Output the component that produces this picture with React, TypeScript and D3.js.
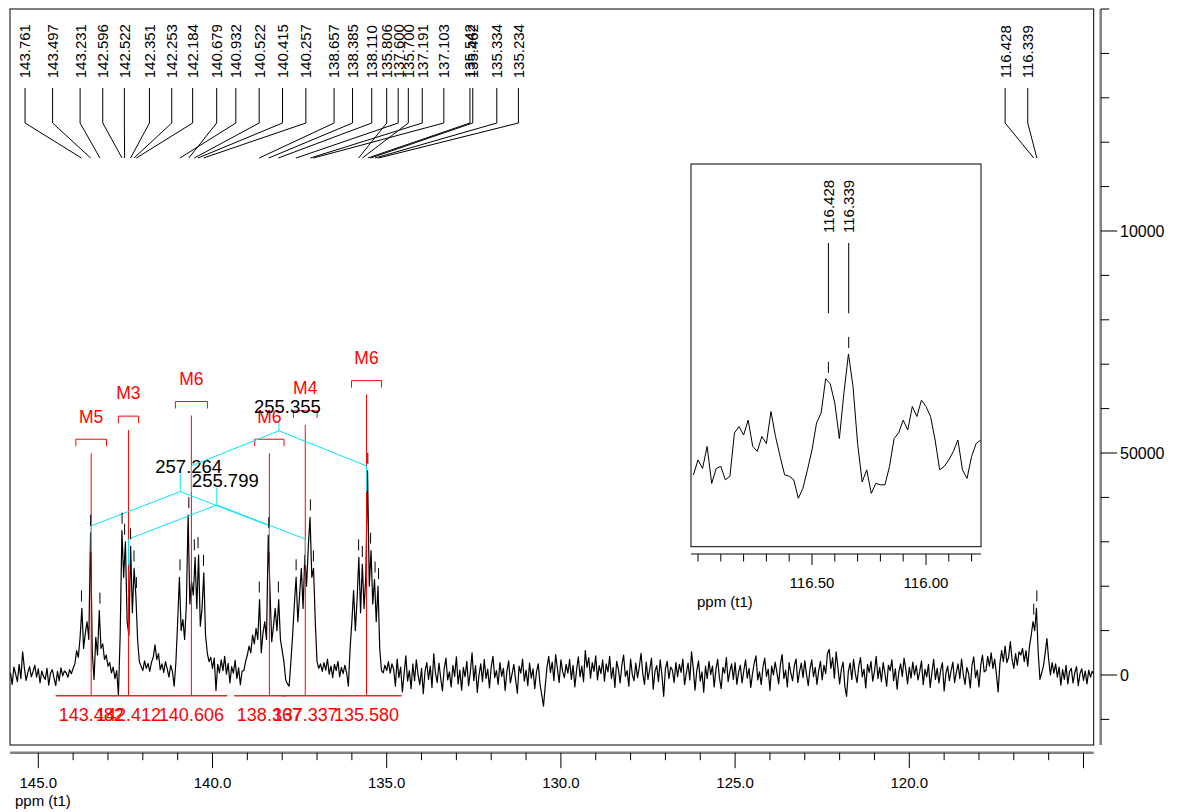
import { scaleLinear, line, range } from 'd3'

const width = 1178
const height = 812

// spectrum intensity (x1000), ppm falls by ppmStep from ppmStart
const ppmStart = 145.8
const ppmStep = 0.05
const intensity = [
  0.5, -2.1, 1.8, 0.2, -1.5, 2.4, -0.8, 5.2, 1.6, -1.2, 0.6, 1.9, -0.4, 0.8, 2.2, -0.5, 1.4, -1.8, 0.9, -0.3,
  -1.0, 1.5, -2.3, 0.4, 1.2, -0.6, -2.4, 0.8, -1.3, 1.6, -0.2, 0.9, 0.5, -0.5, 1.2, 0.3, 1.5, 2.5, 5.5, 4.0,
  8.5, 15.0, 6.0, 9.5, 12.0, 8.0, 32.0, 5.0, -1.0, 8.5, 4.5, 14.5, 6.0, 7.0, 3.5, 4.5, 2.0, 2.8, 0.5, 1.8,
  -0.8, 1.0, -4.5, 9.0, 32.5, 22.0, 30.0, 12.0, 9.0, 29.0, 14.0, 24.0, 18.0, 8.0, 3.0, 2.0, 1.0, 3.2, 1.5, 2.6,
  0.8, 2.9, 4.0, 6.8, 3.5, 4.8, 1.2, 2.5, 0.6, 3.0, 1.4, -0.5, 2.2, 0.8, -2.5, 3.0, 12.0, 22.0, 10.0, 12.5,
  8.0, 16.0, 36.0, 16.0, 21.0, 18.0, 26.5, 15.0, 27.0, 11.0, 15.0, 23.0, 9.0, 5.0, 3.0, 4.0, 1.5, 3.8, -3.5, 2.4,
  0.5, 3.4, 1.0, 4.2, 0.2, 2.6, -1.8, 1.9, 0.4, 3.3, -0.8, 1.6, -2.2, 0.9, 1.0, 3.0, 4.5, 6.5, 5.0, 9.0,
  7.0, 10.5, 8.0, 17.0, 5.0, 9.5, 12.0, 8.0, 31.5, 19.0, 7.5, 11.0, 15.0, 10.0, 17.0, 8.0, 5.5, 3.0, -1.0, -2.0,
  -2.5, 3.0, 9.0, 16.0, 22.0, 12.0, 18.0, 24.0, 15.0, 27.0, 20.0, 29.0, 35.5, 22.0, 24.0, 12.0, 3.0, 1.5, 2.5, 0.8,
  2.8, 1.1, 3.6, 0.2, 2.0, -0.6, 2.4, 1.0, 3.1, -0.4, 1.7, 0.3, 2.2, 0.5, -2.5, 6.0, 12.0, 19.0, 10.0, 17.0,
  26.5, 14.0, 25.0, 15.0, 22.0, 46.0, 20.0, 28.0, 16.0, 21.5, 12.0, 20.0, 6.0, 1.0, 0.5, 2.2, 1.0, 3.0, 0.4, 2.5,
  1.3, -2.5, 3.6, -0.6, 1.8, -3.8, 0.3, 4.3, -1.4, 1.0, -3.1, 2.5, -1.3, 3.4, 0.1, -2.2, 1.5, -4.2, 0.8, 2.8,
  -1.0, 2.0, -2.8, 4.8, 0.4, -1.7, 2.7, -0.7, -3.6, 1.4, 3.8, -1.1, 0.7, -2.7, 2.2, -0.3, 4.1, -2.0, 1.1, -3.4,
  1.7, -0.4, 3.1, -2.4, 0.6, 5.0, -1.3, 2.1, -3.9, 0.0, 2.5, -1.5, 3.5, -0.8, 1.3, -2.9, 1.8, 4.2, -0.6, 1.0,
  -2.1, 2.8, -0.3, 1.5, -3.5, 0.8, 3.2, -1.8, 0.3, 2.4, -1.1, -4.1, 2.0, 0.4, 3.6, -1.4, 1.1, -2.4, 2.7, -0.7,
  1.4, -3.1, 0.7, 2.5, -2.0, -4.5, -7.0, -2.5, 1.7, 4.2, 0.6, 2.9, -1.3, 4.6, 1.4, -1.7, 3.4, 0.8, -0.6, 2.4,
  0.4, 3.5, -1.0, 2.2, -2.7, 1.1, 4.1, -0.4, 2.0, -1.5, 5.5, 1.7, 3.9, -0.7, 2.8, 0.8, 4.3, -1.1, 2.1, 0.3,
  3.4, -1.4, 2.5, 0.7, 4.2, -0.8, 1.7, -2.8, 3.1, 1.3, -1.8, 2.2, 4.5, -0.3, 1.0, -2.5, 3.6, 0.1, -1.3, 2.7,
  -0.6, 1.8, 4.9, 0.3, -2.1, 2.9, -1.0, 1.3, 3.8, -3.2, 0.8, 2.1, -1.5, 3.4, 0.0, -4.8, 1.4, 3.1, -0.8, 1.8,
  1.1, -1.7, 2.8, -0.4, 2.4, 0.6, 3.6, -2.2, 0.4, 2.7, -1.1, 5.2, 1.5, -3.4, 1.0, 3.2, -1.4, 0.7, -3.9, 2.0,
  -0.8, 3.1, 0.1, 2.0, -2.7, 1.3, 3.5, -0.6, -3.1, 1.7, 0.4, 3.9, -1.5, 0.8, 2.5, -1.0, 2.8, -2.1, 0.6, 2.2,
  -1.8, 1.0, 3.4, -0.7, 1.5, -2.8, 0.3, 2.7, 4.3, -1.1, 0.7, -2.2, 1.8, 3.8, -0.3, 1.3, -3.5, 2.0, 0.0, 2.9,
  0.6, -2.0, 2.4, 4.6, -0.8, 1.1, -2.7, 2.8, 0.4, -1.3, 2.1, 3.6, -1.7, 0.8, 2.7, -0.6, 3.2, 0.1, -2.4, 1.4,
  3.4, -0.4, 1.7, -2.1, 1.0, 3.1, -1.1, 2.2, 0.3, 4.8, 5.8, 1.5, 3.9, -0.7, 5.2, 1.8, -2.0, 1.3, 2.9, -2.5,
  -4.8, 0.8, 2.7, -1.0, 3.5, 0.3, -1.7, 2.0, 3.9, -0.4, 1.3, -2.9, 2.4, 0.6, 3.1, -1.4, 0.8, 4.2, -0.8, 1.7,
  -1.5, 2.8, 0.4, -2.5, 2.2, 1.0, 3.4, -1.3, 1.4, -3.2, 0.7, 2.5, -0.3, 3.8, 1.3, -2.0, 1.8, -0.7, 2.9, 0.0,
  2.1, -1.1, 0.8, 3.2, -2.2, 1.3, -0.4, 2.4, -2.8, 0.6, 3.5, -1.0, 1.5, -1.8, 1.1, 2.8, -3.6, 0.3, 2.0, -1.3,
  1.0, 2.9, -1.7, 0.6, 2.5, -0.8, 3.6, 0.1, -2.1, 1.7, 0.4, -2.9, 2.2, 4.1, -0.6, 1.1, -2.7, 2.1, 4.5, 0.7,
  1.0, 4.2, 2.0, 5.0, 1.5, 3.6, 0.2, -3.8, 2.5, 5.5, 3.0, 6.5, 2.8, 4.0, 7.5, 3.5, 1.5, 4.8, 2.2, 5.2,
  4.5, 6.0, 3.0, 5.5, 2.0, 6.5, 9.0, 12.0, 10.0, 15.0, 5.0, -1.0, 0.5, 2.0, 5.0, 8.2, 3.5, 0.0, 2.8, 0.4,
  2.5, -0.5, 1.8, -2.3, 1.2, -1.0, 2.2, -2.0, 0.8, 1.5, -1.8, 0.5, 1.9, -2.4, 0.3, 1.4, -1.2, 0.9, -2.0, 1.1,
  -0.5, 0.8, 0.2,
]

// expanded region around 116.4 ppm
const insetStart = 117.02
const insetStep = 0.02
const insetIntensity = [
  -0.2, 1.9, 0.7, 3.8, -1.4, 0.7, 1.0, -0.9, -0.4, 5.7,
  6.6, 5.4, 7.5, 3.8, 3.1, 5.2, 4.2, 8.7, 5.2, 2.4,
  -0.2, -0.4, -0.9, -3.5, -2.1, 0.5, 3.3, 7.1, 8.5, 13.3,
  12.6, 9.9, 4.9, 11.3, 16.8, 12.2, 4.2, -1.2, 0.5, -2.8,
  -1.4, -1.6, -1.6, 1.0, 4.9, 5.7, 7.5, 6.1, 9.4, 8.0,
  10.3, 9.4, 8.0, 4.7, 0.5, 1.0, 1.9, 3.1, 4.7, 0.5,
  -0.7, 2.4, 4.2, 4.7,
]

// picked peaks and where their labels sit along the top (ppm)
const peakPpm = [
  143.761, 143.497, 143.231, 142.596, 142.522, 142.351, 142.253, 142.184, 140.679, 140.932,
  140.522, 140.415, 140.257, 138.657, 138.385, 138.11, 135.806, 137.6, 135.7, 137.191,
  137.103, 135.542, 135.462, 135.334, 135.234, 116.428, 116.339,
]
const peakText = [
  '143.761', '143.497', '143.231', '142.596', '142.522', '142.351', '142.253', '142.184', '140.679', '140.932',
  '140.522', '140.415', '140.257', '138.657', '138.385', '138.110', '135.806', '137.600', '135.700', '137.191',
  '137.103', '135.542', '135.462', '135.334', '135.234', '116.428', '116.339',
]
const peakSlot = [
  145.38, 144.59, 143.8, 143.15, 142.53, 141.81, 141.17, 140.57, 139.88, 139.33,
  138.66, 137.99, 137.32, 136.51, 135.98, 135.43, 135.0, 134.67, 134.38, 133.98,
  133.36, 132.61, 132.53, 131.84, 131.22, 117.25, 116.6,
]
const insetPeaks = [116.428, 116.339]

// multiplet annotations
const multipletName = ['M5', 'M3', 'M6', 'M6', 'M4', 'M6']
const multipletPpm = [143.482, 142.412, 140.606, 138.367, 137.337, 135.58]
const multipletText = ['143.482', '142.412', '140.606', '138.367', '137.337', '135.580']
const multipletLevel = [53.1, 58.3, 61.6, 53.1, 59.5, 66.3]
const multipletHalf = [0.44, 0.29, 0.46, 0.42, 0.34, 0.43]
const integralFrom = [144.5, 142.85, 141.4, 139.38, 138.0, 136.4]
const integralTo = [142.8, 141.38, 139.58, 137.9, 136.38, 134.57]
const integralLevel = -4.66

// coupling trees (Hz)
const couplingText = ['257.264', '255.799', '255.355']
const couplingLeft = [143.482, 142.412, 140.606]
const couplingRight = [138.367, 137.337, 135.58]
const couplingApex = [41.3, 38.3, 55.0]
const couplingEnd = [33.6, 30.6, 47.1]
const couplingStem = [45.4, 42.2, 56.8]
const couplingLabel = [45.6, 42.4, 59.1]

const xMinor = range(145, 114.5, -1)
const xLabelValues = [145, 140, 135, 130, 125, 120]
const yMinor = range(-10, 151, 10)
const yLabelValues = [0, 50, 100]
const yLabelText = ['0', '50000', '10000']
const insetTicks = range(117.0, 115.75, -0.1)
const insetLabelValues = [116.5, 116.0]

const frame = { left: 10, right: 1093.7, top: 9, bottom: 745 }
const inset = { left: 691, right: 981, top: 164, bottom: 546.7 }

const x = scaleLinear().domain([145, 115]).range([38.3, 1083.5])
const y = scaleLinear().domain([0, 50]).range([675, 453])
const xi = scaleLinear().domain([116.5, 116.0]).range([812, 926])
const yi = scaleLinear().domain([-10.3, 43.5]).range([546.7, 164])

const font = "Arial, 'Liberation Sans', sans-serif"

function peakValue(ppm: number, start: number, step: number, data: number[]) {
  const f = (start - ppm) / step
  const a = data[Math.floor(f)] ?? 0
  const b = data[Math.ceil(f)] ?? 0
  return Math.max(a, b)
}

export default function App() {
  const mainLine = line<number>()
    .x((_, i) => x(ppmStart - i * ppmStep))
    .y((d) => y(d))
  const insetLine = line<number>()
    .x((_, i) => xi(insetStart - i * insetStep))
    .y((d) => yi(d))

  const axisY = 752.7
  const axisX = 1100.7

  return (
    <svg
      width={width}
      height={height}
      style={{ position: 'absolute', left: 0, top: 0, background: '#fff' }}
      fontFamily={font}
    >
      <defs>
        <clipPath id="main-clip">
          <rect x={frame.left} y={frame.top} width={frame.right - frame.left} height={frame.bottom - frame.top} />
        </clipPath>
        <clipPath id="inset-clip">
          <rect x={inset.left} y={inset.top} width={inset.right - inset.left} height={inset.bottom - inset.top} />
        </clipPath>
      </defs>

      <rect x={frame.left} y={frame.top} width={frame.right - frame.left} height={frame.bottom - frame.top} fill="none" stroke="#000" />

      {/* integral baselines */}
      {integralFrom.map((p, i) => (
        <line key={'int' + i} x1={x(p)} x2={x(integralTo[i])} y1={y(integralLevel)} y2={y(integralLevel)} stroke="#ff2020" strokeWidth={1.5} />
      ))}

      <path d={mainLine(intensity) ?? ''} fill="none" stroke="#000" strokeWidth={1.2} strokeLinejoin="round" clipPath="url(#main-clip)" />

      {/* multiplet markers */}
      {multipletPpm.map((p, i) => {
        const cx = x(p)
        const by = y(multipletLevel[i])
        const x1 = x(p + multipletHalf[i])
        const x2 = x(p - multipletHalf[i])
        return (
          <g key={'m' + i} stroke="#ff0000" fill="none">
            <line x1={cx} x2={cx} y1={by + 14} y2={y(integralLevel)} />
            <polyline points={`${x1},${by + 7} ${x1},${by} ${x2},${by} ${x2},${by + 7}`} />
            <text x={cx} y={by - 16.7} textAnchor="middle" fontSize={17.5} fill="#ff0000" stroke="none">
              {multipletName[i]}
            </text>
            <text x={cx} y={720.7} textAnchor="middle" fontSize={18} fill="#ff0000" stroke="none">
              {multipletText[i]}
            </text>
          </g>
        )
      })}

      {/* coupling trees */}
      {couplingText.map((t, i) => {
        const a = x(couplingLeft[i])
        const b = x(couplingRight[i])
        const m = (a + b) / 2
        const ay = y(couplingApex[i])
        const ey = y(couplingEnd[i])
        return (
          <g key={'c' + i}>
            <g stroke="#00e5ff" fill="none">
              <line x1={m} x2={m} y1={y(couplingStem[i])} y2={ay} />
              <polyline points={`${a},${ey + 26} ${a},${ey} ${m},${ay} ${b},${ey} ${b},${ey + 26}`} />
            </g>
            <text x={m - 25} y={y(couplingLabel[i])} fontSize={18.5} fill="#000">
              {t}
            </text>
          </g>
        )
      })}

      {/* peak picking labels */}
      {peakPpm.map((p, i) => {
        const lx = x(peakSlot[i])
        const px = x(p)
        const v = peakValue(p, ppmStart, ppmStep, intensity)
        const py = y(v)
        return (
          <g key={'p' + i}>
            <text transform={`translate(${lx},78.3) rotate(-90)`} dy="0.36em" fontSize={15} fill="#000">
              {peakText[i]}
            </text>
            <polyline points={`${lx},88 ${lx},123 ${px},158`} fill="none" stroke="#000" />
            <line x1={px} x2={px} y1={py - 18} y2={py - 7} stroke="#000" />
          </g>
        )
      })}

      {/* bottom axis */}
      <line x1={frame.left} x2={frame.right} y1={axisY} y2={axisY} stroke="#808080" strokeWidth={2.5} />
      {xMinor.map((t) => {
        const major = Math.round(t) % 5 === 0
        return <line key={'xt' + t} x1={x(t)} x2={x(t)} y1={axisY} y2={axisY + (major ? 15.5 : 7.5)} stroke="#000" />
      })}
      {xLabelValues.map((t) => (
        <text key={'xl' + t} x={x(t)} y={788} textAnchor="middle" fontSize={15} fill="#000">
          {t.toFixed(1)}
        </text>
      ))}
      <text x={15} y={806} fontSize={15} fill="#000">
        ppm (t1)
      </text>

      {/* right axis */}
      <line x1={axisX} x2={axisX} y1={frame.top} y2={frame.bottom} stroke="#808080" strokeWidth={2.5} />
      {yMinor.map((t) => {
        const major = yLabelValues.includes(t)
        return <line key={'yt' + t} x1={axisX} x2={axisX + (major ? 16.5 : 8.5)} y1={y(t)} y2={y(t)} stroke="#000" />
      })}
      {yLabelValues.map((t, i) => (
        <text key={'yl' + t} x={1120} y={y(t)} dy="0.35em" fontSize={16} fill="#000">
          {yLabelText[i]}
        </text>
      ))}

      {/* expansion */}
      <rect x={inset.left} y={inset.top} width={inset.right - inset.left} height={inset.bottom - inset.top} fill="#fff" stroke="#000" />
      <path d={insetLine(insetIntensity) ?? ''} fill="none" stroke="#000" clipPath="url(#inset-clip)" />
      {insetPeaks.map((p) => {
        const px = xi(p)
        const py = yi(peakValue(p, insetStart, insetStep, insetIntensity))
        return (
          <g key={'ip' + p}>
            <text transform={`translate(${px},233) rotate(-90)`} dy="0.36em" fontSize={15} fill="#000">
              {p.toFixed(3)}
            </text>
            <line x1={px} x2={px} y1={243} y2={313.3} stroke="#000" />
            <line x1={px} x2={px} y1={py - 17} y2={py - 6} stroke="#000" />
          </g>
        )
      })}
      <line x1={inset.left} x2={inset.right} y1={554} y2={554} stroke="#808080" strokeWidth={2} />
      {insetTicks.map((t) => {
        const major = insetLabelValues.some((v) => Math.abs(v - t) < 1e-6)
        return <line key={'it' + t} x1={xi(t)} x2={xi(t)} y1={554} y2={major ? 565 : 561.5} stroke="#000" />
      })}
      {insetLabelValues.map((t) => (
        <text key={'il' + t} x={xi(t)} y={588} textAnchor="middle" fontSize={15} fill="#000">
          {t.toFixed(2)}
        </text>
      ))}
      <text x={697} y={606.5} fontSize={15} fill="#000">
        ppm (t1)
      </text>
    </svg>
  )
}
